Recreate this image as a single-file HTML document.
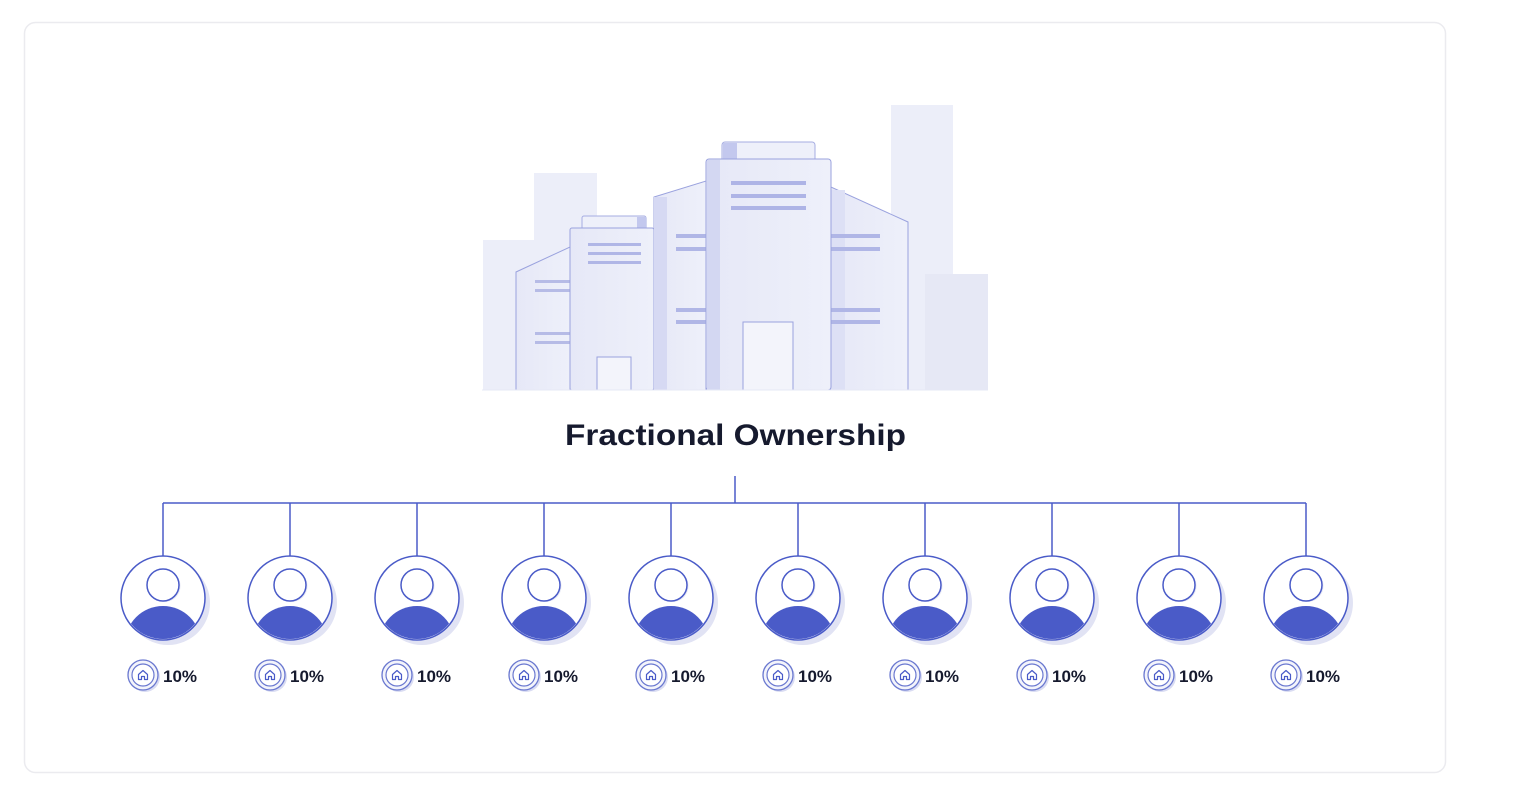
<!DOCTYPE html>
<html><head><meta charset="utf-8"><style>
html,body{margin:0;padding:0;background:#fff;width:1536px;height:798px;overflow:hidden}
svg{display:block}
</style></head><body>
<svg width="1536" height="798" viewBox="0 0 1536 798" xmlns="http://www.w3.org/2000/svg">
<defs>
<linearGradient id="bg1" x1="0" x2="1"><stop offset="0" stop-color="#e4e6f6"/><stop offset="1" stop-color="#f1f2fa"/></linearGradient>
<linearGradient id="bd" x1="0" x2="1"><stop offset="0" stop-color="#e6e8f7"/><stop offset="1" stop-color="#eef0fa"/></linearGradient>
<clipPath id="cc"><circle cx="0" cy="0" r="41"/></clipPath>
<g id="person">
<circle cx="5" cy="5" r="42" fill="#e1e3f4"/>
<circle cx="0" cy="0" r="42" fill="#fff" stroke="#4a5bc8" stroke-width="1.5"/>
<g clip-path="url(#cc)"><ellipse cx="0" cy="46" rx="38" ry="38" fill="#4a5bc8"/></g>
<circle cx="1.5" cy="-12" r="16" fill="#e6e8f5"/>
<circle cx="0" cy="-13" r="16" fill="#fff" stroke="#4a5bc8" stroke-width="1.5"/>
</g>
<g id="badge">
<circle cx="2" cy="2" r="15" fill="#d9dcf2"/>
<circle cx="0" cy="0" r="15" fill="#f3f4fb" stroke="#6a78d0" stroke-width="1.3"/>
<circle cx="0" cy="0" r="11" fill="#fff" stroke="#6a78d0" stroke-width="1.2"/>
<path d="M-4.5,4.5 V-0.5 L0,-4.5 L4.5,-0.5 V4.5 H1.5 V1.5 H-1.5 V4.5 Z" fill="none" stroke="#4a5bc8" stroke-width="1.2" stroke-linejoin="round"/>
</g>
</defs>
<rect x="24.5" y="22.5" width="1421" height="750" rx="11" fill="#fff" stroke="#ebebef" stroke-width="1.5"/>

<!-- background blocks -->
<rect x="483" y="240" width="62" height="150" fill="#eceef9"/>
<rect x="534" y="173" width="63" height="217" fill="#eceef9"/>
<rect x="891" y="105" width="62" height="285" fill="#eceef9"/>
<rect x="925" y="274" width="63" height="116" fill="#e6e8f5"/>

<!-- left pentagon -->
<path d="M516,390 V272 L570,247 V390 Z" fill="url(#bd)" stroke="#9aa2de" stroke-width="1"/>
<g fill="#b6bbe6"><rect x="535" y="280" width="35" height="3"/><rect x="535" y="289" width="35" height="3"/><rect x="535" y="332" width="35" height="3"/><rect x="535" y="341" width="35" height="3"/></g>
<!-- small building -->
<rect x="582" y="216" width="64" height="14" rx="2" fill="#eef0fa" stroke="#a6adE2" stroke-width="1"/>
<rect x="637" y="217" width="9" height="12" fill="#c3c8ee"/>
<rect x="570" y="228" width="84" height="162" rx="2" fill="url(#bd)" stroke="#9aa2de" stroke-width="1"/>
<g fill="#b0b6e6"><rect x="588" y="243" width="53" height="3"/><rect x="588" y="252" width="53" height="3"/><rect x="588" y="261" width="53" height="3"/></g>
<rect x="597" y="357" width="34" height="33" fill="#f3f4fb" stroke="#9aa2de" stroke-width="1"/>
<!-- middle pentagon -->
<path d="M654,390 V197 L706,181 V390 Z" fill="url(#bd)" stroke="#9aa2de" stroke-width="1"/>
<rect x="654" y="197" width="13" height="193" fill="#d6d9f3"/>
<g fill="#b0b6e6"><rect x="676" y="234" width="30" height="4"/><rect x="676" y="247" width="30" height="4"/><rect x="676" y="308" width="30" height="4"/><rect x="676" y="320" width="30" height="4"/></g>
<!-- right pentagon -->
<path d="M831,390 V187 L908,222 V390 Z" fill="url(#bd)" stroke="#9aa2de" stroke-width="1"/>
<rect x="831" y="190" width="14" height="200" fill="#dde0f5"/>
<g fill="#b0b6e6"><rect x="831" y="234" width="49" height="4"/><rect x="831" y="247" width="49" height="4"/><rect x="831" y="308" width="49" height="4"/><rect x="831" y="320" width="49" height="4"/></g>
<!-- main tower -->
<rect x="722" y="142" width="93" height="20" rx="3" fill="#eef0fa" stroke="#a6adE2" stroke-width="1"/>
<rect x="723" y="143" width="14" height="18" fill="#c3c8ee"/>
<rect x="706" y="159" width="125" height="231" rx="3" fill="url(#bd)" stroke="#9aa2de" stroke-width="1"/>
<rect x="707" y="160" width="13" height="230" fill="#d3d7f2"/>
<g fill="#aeb4e6"><rect x="731" y="181" width="75" height="4"/><rect x="731" y="194" width="75" height="4"/><rect x="731" y="206" width="75" height="4"/></g>
<rect x="743" y="322" width="50" height="68" fill="#f3f4fb" stroke="#9aa2de" stroke-width="1"/>
<line x1="482" y1="390" x2="988" y2="390" stroke="#e6e8f5" stroke-width="1"/>

<text x="565" y="445" font-family="Liberation Sans, sans-serif" font-weight="bold" font-size="30" fill="#161a2e" textLength="341" lengthAdjust="spacingAndGlyphs">Fractional Ownership</text>

<!-- connectors -->
<g stroke="#4a5bc8" stroke-width="1.5" fill="none">
<line x1="735" y1="476" x2="735" y2="503"/>
<line x1="163" y1="503" x2="1306" y2="503"/>
<line x1="163" y1="503" x2="163" y2="557"/><line x1="290" y1="503" x2="290" y2="557"/><line x1="417" y1="503" x2="417" y2="557"/><line x1="544" y1="503" x2="544" y2="557"/><line x1="671" y1="503" x2="671" y2="557"/><line x1="798" y1="503" x2="798" y2="557"/><line x1="925" y1="503" x2="925" y2="557"/><line x1="1052" y1="503" x2="1052" y2="557"/><line x1="1179" y1="503" x2="1179" y2="557"/><line x1="1306" y1="503" x2="1306" y2="557"/>
</g>

<g font-family="Liberation Sans, sans-serif" font-weight="bold" font-size="17" fill="#161a2e">
<use href="#person" x="163" y="598"/><use href="#badge" x="143" y="675"/><text x="163" y="682">10%</text>
<use href="#person" x="290" y="598"/><use href="#badge" x="270" y="675"/><text x="290" y="682">10%</text>
<use href="#person" x="417" y="598"/><use href="#badge" x="397" y="675"/><text x="417" y="682">10%</text>
<use href="#person" x="544" y="598"/><use href="#badge" x="524" y="675"/><text x="544" y="682">10%</text>
<use href="#person" x="671" y="598"/><use href="#badge" x="651" y="675"/><text x="671" y="682">10%</text>
<use href="#person" x="798" y="598"/><use href="#badge" x="778" y="675"/><text x="798" y="682">10%</text>
<use href="#person" x="925" y="598"/><use href="#badge" x="905" y="675"/><text x="925" y="682">10%</text>
<use href="#person" x="1052" y="598"/><use href="#badge" x="1032" y="675"/><text x="1052" y="682">10%</text>
<use href="#person" x="1179" y="598"/><use href="#badge" x="1159" y="675"/><text x="1179" y="682">10%</text>
<use href="#person" x="1306" y="598"/><use href="#badge" x="1286" y="675"/><text x="1306" y="682">10%</text>
</g>
</svg>
</body></html>
